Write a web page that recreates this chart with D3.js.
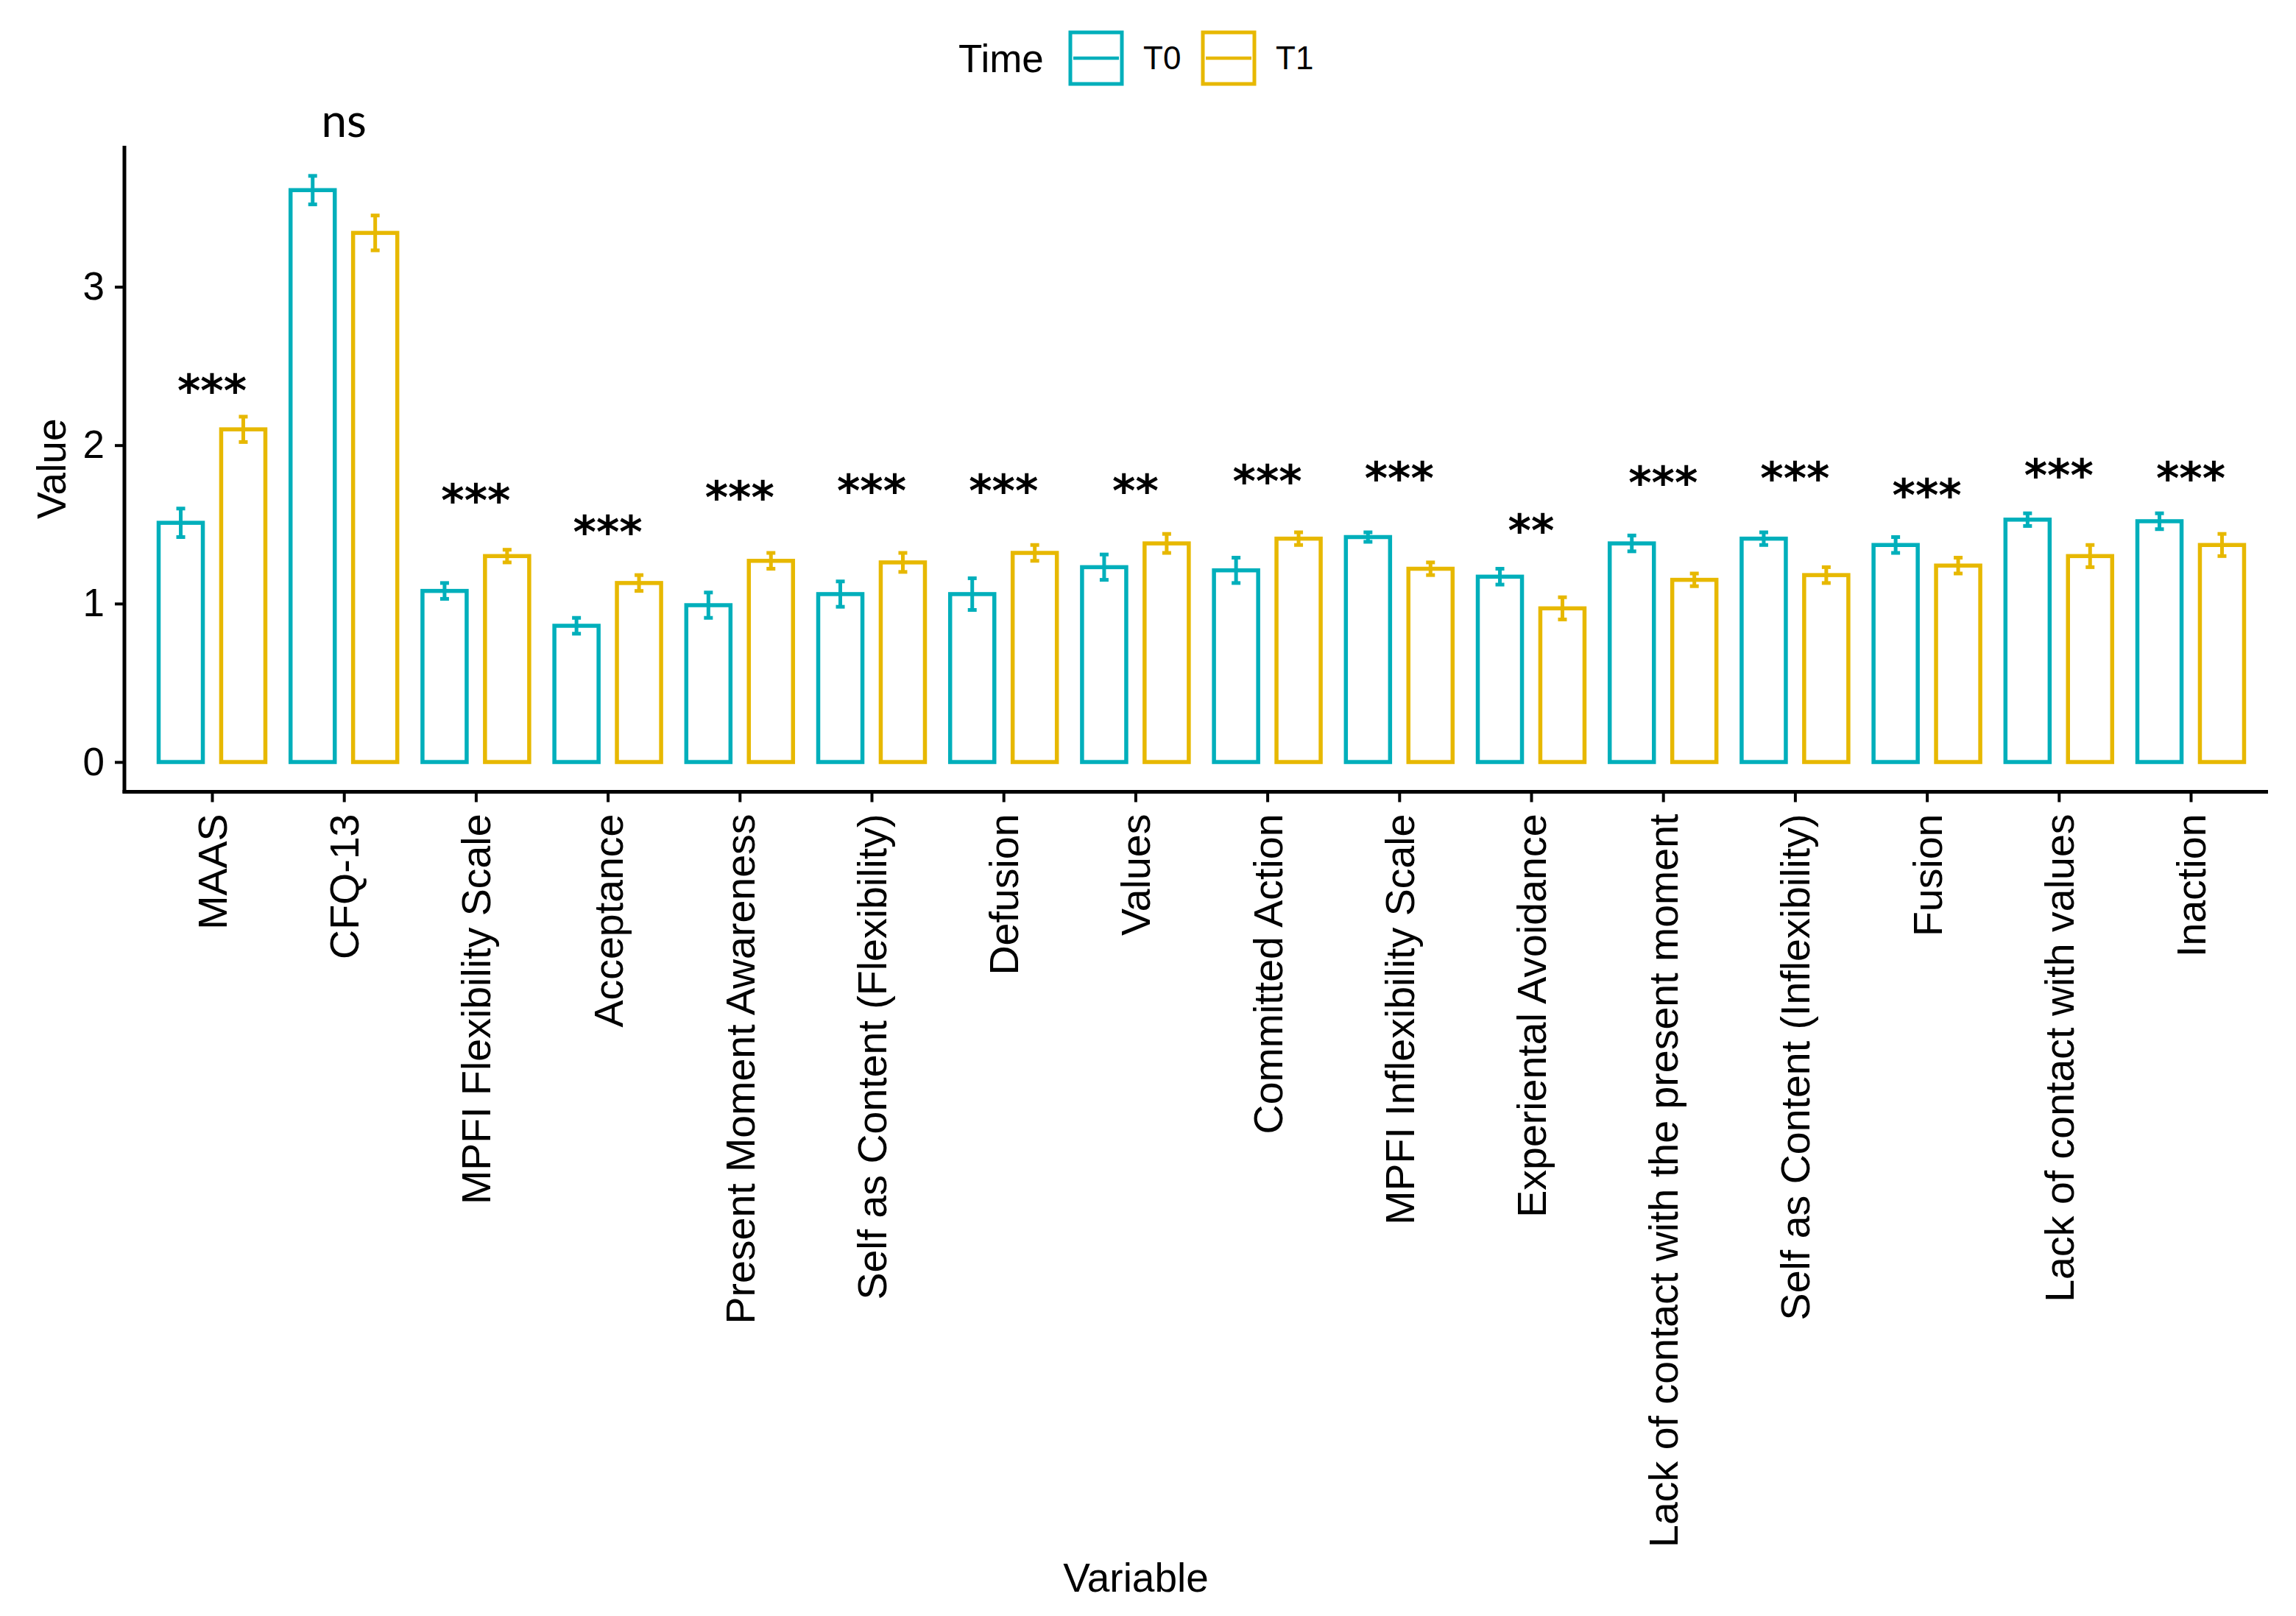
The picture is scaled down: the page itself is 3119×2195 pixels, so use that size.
<!DOCTYPE html>
<html>
<head>
<meta charset="utf-8">
<script src="https://cdn.jsdelivr.net/npm/d3@7"></script>
<style>
  body { margin: 0; background: #fff; }
  text { font-family: "Liberation Sans", Arial, sans-serif; fill: #000; }
</style>
</head>
<body>
<script>
var width = 3119,
    height = 2195

var variables = ['MAAS', 'CFQ-13', 'MPFI Flexibility Scale', 'Acceptance',
  'Present Moment Awareness', 'Self as Content (Flexibility)', 'Defusion', 'Values',
  'Committed Action', 'MPFI Inflexibility Scale', 'Experiental Avoidance',
  'Lack of contact with the present moment', 'Self as Content (Inflexibility)',
  'Fusion', 'Lack of contact with values', 'Inaction']

var times = ['T0', 'T1']

var t0Mean = [1.51, 3.61, 1.08, 0.86, 0.99, 1.06, 1.06, 1.23, 1.21, 1.42, 1.17, 1.38, 1.41, 1.37, 1.53, 1.52]
var t1Mean = [2.10, 3.34, 1.30, 1.13, 1.27, 1.26, 1.32, 1.38, 1.41, 1.22, 0.97, 1.15, 1.18, 1.24, 1.30, 1.37]
var t0Err  = [0.09, 0.09, 0.05, 0.05, 0.08, 0.08, 0.10, 0.08, 0.08, 0.03, 0.05, 0.05, 0.04, 0.05, 0.04, 0.05]
var t1Err  = [0.08, 0.11, 0.04, 0.05, 0.05, 0.06, 0.05, 0.06, 0.04, 0.04, 0.07, 0.04, 0.05, 0.05, 0.07, 0.07]

var sigLabels = ['***', 'ns', '***', '***', '***', '***', '***', '**', '***', '***', '**', '***', '***', '***', '***', '***']
var sigY      = [2.41, 4.02, 1.72, 1.52, 1.74, 1.78, 1.78, 1.78, 1.84, 1.86, 1.53, 1.83, 1.86, 1.75, 1.88, 1.86]

var yTicks = [0, 1, 2, 3]

var colors = {T0: '#00AFBB', T1: '#E7B800'}

// rows for the bars
var rows = []
variables.forEach(function(v, i){
  rows.push({variable: v, time: 'T0', mean: t0Mean[i], se: t0Err[i]})
  rows.push({variable: v, time: 'T1', mean: t1Mean[i], se: t1Err[i]})
})

var x = d3.scalePoint()
    .domain(variables)
    .range([288, 2976])

var step = x.step()

var dodge = d3.scalePoint()
    .domain(times)
    .range([-0.237 * step, 0.237 * step])

var barW = 0.335 * step

var y = d3.scaleLinear()
    .domain([-0.188, 3.89])
    .range([1075.5, 198])

var svg = d3.select('body').append('svg')
    .attr('width', width)
    .attr('height', height)

var axisLeft = 169,
    axisRight = 3081

// bars
svg.selectAll('rect.bar')
  .data(rows)
  .enter().append('rect')
    .attr('class', 'bar')
    .attr('x', function(d){ return x(d.variable) + dodge(d.time) - barW / 2 })
    .attr('y', function(d){ return y(d.mean) })
    .attr('width', barW)
    .attr('height', function(d){ return y(0) - y(d.mean) })
    .attr('fill', 'none')
    .attr('stroke', function(d){ return colors[d.time] })
    .attr('stroke-width', 5.5)

// error bars
var eb = svg.selectAll('g.err')
  .data(rows)
  .enter().append('g')
    .attr('class', 'err')
    .attr('stroke', function(d){ return colors[d.time] })
    .attr('stroke-width', 5)

eb.append('line')
    .attr('x1', function(d){ return x(d.variable) + dodge(d.time) })
    .attr('x2', function(d){ return x(d.variable) + dodge(d.time) })
    .attr('y1', function(d){ return y(d.mean - d.se) })
    .attr('y2', function(d){ return y(d.mean + d.se) })

eb.selectAll('line.cap')
  .data(function(d){ return [d.mean - d.se, d.mean + d.se].map(function(v){ return {d: d, v: v} }) })
  .enter().append('line')
    .attr('class', 'cap')
    .attr('x1', function(c){ return x(c.d.variable) + dodge(c.d.time) - 6 })
    .attr('x2', function(c){ return x(c.d.variable) + dodge(c.d.time) + 6 })
    .attr('y1', function(c){ return y(c.v) })
    .attr('y2', function(c){ return y(c.v) })

// significance labels
svg.selectAll('text.sig')
  .data(variables)
  .enter().append('text')
    .attr('class', 'sig')
    .attr('x', function(d){ return x(d) })
    .attr('y', function(d, i){ return y(sigY[i]) })
    .attr('dy', function(d, i){ return sigLabels[i] == 'ns' ? 16 : 36 })
    .attr('text-anchor', 'middle')
    .style('font-family', function(d, i){ return sigLabels[i] == 'ns' ? 'Lato, "Open Sans", sans-serif' : '"DejaVu Sans", sans-serif' })
    .style('font-weight', function(d, i){ return sigLabels[i] == 'ns' ? 'normal' : 'bold' })
    .style('font-size', function(d, i){ return sigLabels[i] == 'ns' ? '62px' : '60px' })
    .text(function(d, i){ return sigLabels[i] })

// y axis
var gy = svg.append('g')
    .attr('transform', 'translate(' + axisLeft + ',0)')
    .call(d3.axisLeft(y).tickValues(yTicks).tickSize(13).tickPadding(14).tickFormat(d3.format('d')))

gy.select('.domain').remove()
gy.selectAll('.tick line').attr('stroke', '#000').attr('stroke-width', 4)
gy.selectAll('.tick text')
    .style('font-size', '53px')
    .style('font-family', '"Liberation Sans", Arial, sans-serif')
    .attr('fill', '#000')

svg.append('line')
    .attr('x1', axisLeft).attr('x2', axisLeft)
    .attr('y1', y.range()[1]).attr('y2', y.range()[0] + 2)
    .attr('stroke', '#000').attr('stroke-width', 5)

// x axis
var gx = svg.append('g')
    .attr('transform', 'translate(0,' + y.range()[0] + ')')
    .call(d3.axisBottom(x).tickSize(14).tickPadding(16))

gx.select('.domain').remove()
gx.selectAll('.tick line').attr('stroke', '#000').attr('stroke-width', 4)
gx.selectAll('.tick text')
    .style('font-size', '55.5px')
    .style('font-family', '"Liberation Sans", Arial, sans-serif')
    .attr('fill', '#000')
    .attr('text-anchor', 'end')
    .attr('transform', 'rotate(-90)')
    .attr('x', -30)
    .attr('y', 0)
    .attr('dy', '0.35em')

svg.append('line')
    .attr('x1', axisLeft - 2.5).attr('x2', axisRight)
    .attr('y1', y.range()[0]).attr('y2', y.range()[0])
    .attr('stroke', '#000').attr('stroke-width', 5)

// axis titles
svg.append('text')
    .attr('transform', 'translate(70,' + (y.range()[0] + y.range()[1]) / 2 + ') rotate(-90)')
    .attr('text-anchor', 'middle')
    .attr('dy', '0.35em')
    .style('font-size', '55px')
    .text('Value')

svg.append('text')
    .attr('x', 1543)
    .attr('y', 2143)
    .attr('text-anchor', 'middle')
    .attr('dy', '0.35em')
    .style('font-size', '55px')
    .text('Variable')

// legend
var legend = svg.append('g').attr('transform', 'translate(1302,79)')

legend.append('text')
    .attr('x', 0).attr('y', 0).attr('dy', '0.35em')
    .style('font-size', '53px')
    .text('Time')

var key = legend.selectAll('g.key')
  .data(times)
  .enter().append('g')
    .attr('class', 'key')
    .attr('transform', function(d, i){ return 'translate(' + (150 + i * 180) + ',0)' })

key.append('rect')
    .attr('x', 2).attr('y', -35)
    .attr('width', 70).attr('height', 70)
    .attr('fill', 'none')
    .attr('stroke', function(d){ return colors[d] })
    .attr('stroke-width', 5)

key.append('line')
    .attr('x1', 6).attr('x2', 68)
    .attr('y1', 0).attr('y2', 0)
    .attr('stroke', function(d){ return colors[d] })
    .attr('stroke-width', 4.5)

key.append('text')
    .attr('x', 101).attr('y', 0).attr('dy', '0.35em')
    .style('font-size', '44px')
    .text(function(d){ return d })
</script>
</body>
</html>
